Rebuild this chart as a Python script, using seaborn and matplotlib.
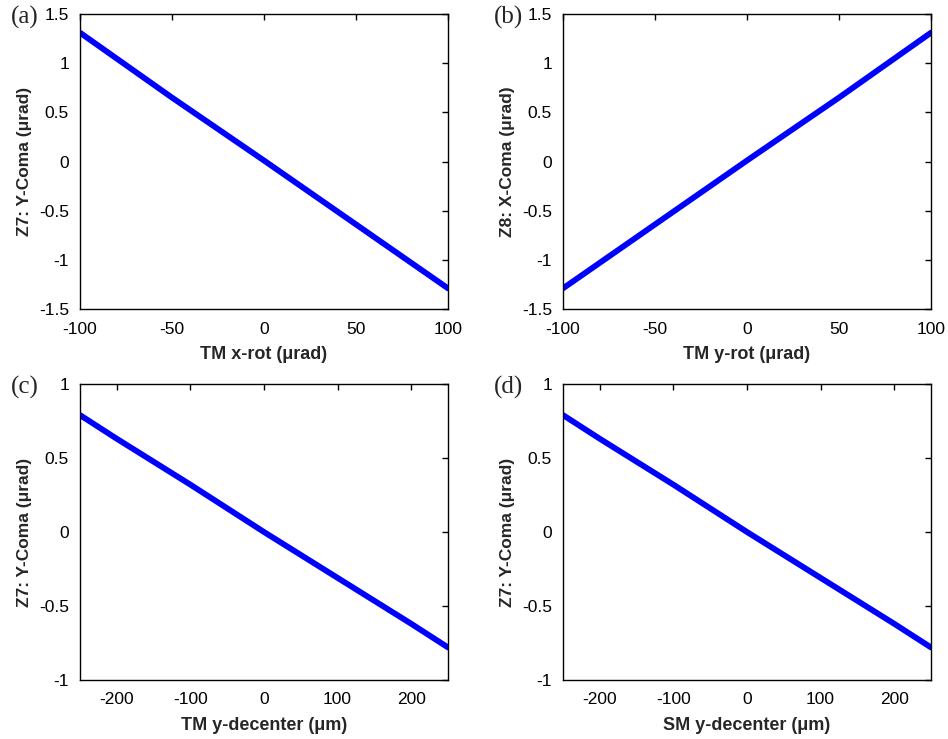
import matplotlib
matplotlib.use("Agg")
import matplotlib.pyplot as plt
import seaborn as sns
import pandas as pd

# Misalignment sweeps and resulting Zernike coma terms
rot_x = [-100, -50, 0, 50, 100]
z7_tm_xrot = [1.31, 0.65, 0.01, -0.64, -1.29]
rot_y = [-100, -50, 0, 50, 100]
z8_tm_yrot = [-1.29, -0.64, 0.01, 0.65, 1.31]
dec_y = [-250, -200, -100, 0, 100, 200, 250]
z7_tm_ydec = [0.79, 0.63, 0.32, 0.0, -0.31, -0.62, -0.78]
z7_sm_ydec = [0.79, 0.63, 0.32, 0.0, -0.31, -0.62, -0.78]

panels = [
    dict(tag="(a)", x=rot_x, y=z7_tm_xrot, xlabel="TM x-rot (\u03bcrad)",
         ylabel="Z7: Y-Coma (\u03bcrad)", xlim=(-100, 100), ylim=(-1.5, 1.5),
         xticks=[-100, -50, 0, 50, 100], yticks=[-1.5, -1, -0.5, 0, 0.5, 1, 1.5]),
    dict(tag="(b)", x=rot_y, y=z8_tm_yrot, xlabel="TM y-rot (\u03bcrad)",
         ylabel="Z8: X-Coma (\u03bcrad)", xlim=(-100, 100), ylim=(-1.5, 1.5),
         xticks=[-100, -50, 0, 50, 100], yticks=[-1.5, -1, -0.5, 0, 0.5, 1, 1.5]),
    dict(tag="(c)", x=dec_y, y=z7_tm_ydec, xlabel="TM y-decenter (\u03bcm)",
         ylabel="Z7: Y-Coma (\u03bcrad)", xlim=(-250, 250), ylim=(-1, 1),
         xticks=[-200, -100, 0, 100, 200], yticks=[-1, -0.5, 0, 0.5, 1]),
    dict(tag="(d)", x=dec_y, y=z7_sm_ydec, xlabel="SM y-decenter (\u03bcm)",
         ylabel="Z7: Y-Coma (\u03bcrad)", xlim=(-250, 250), ylim=(-1, 1),
         xticks=[-200, -100, 0, 100, 200], yticks=[-1, -0.5, 0, 0.5, 1]),
]

sns.set_style("white")
plt.rcParams["font.family"] = ["Liberation Sans", "DejaVu Sans"]

W, H = 948, 739
fig = plt.figure(figsize=(W / 100, H / 100), dpi=100)

# axes boxes in pixels: left, top, right, bottom
boxes = [(80, 14, 448, 309), (563, 14, 931, 309),
         (80, 384, 448, 680), (563, 384, 931, 680)]

for p, (l, t, r, b) in zip(panels, boxes):
    ax = fig.add_axes([l / W, 1 - b / H, (r - l) / W, (b - t) / H])
    df = pd.DataFrame({"x": p["x"], "y": p["y"]})
    sns.lineplot(data=df, x="x", y="y", ax=ax, color="#0000ff", lw=4.2)
    ax.set_xlim(*p["xlim"])
    ax.set_ylim(*p["ylim"])
    ax.set_xticks(p["xticks"])
    ax.set_yticks(p["yticks"])
    ax.set_xticklabels([f"{v:g}" for v in p["xticks"]])
    ax.set_yticklabels([f"{v:g}" for v in p["yticks"]])
    ax.tick_params(direction="in", length=4, width=1, top=True, right=True,
                   labelsize=12.5, colors="black")
    ax.tick_params(axis="x", pad=9)
    ax.tick_params(axis="y", pad=8)
    for sp in ax.spines.values():
        sp.set_visible(True)
        sp.set_color("black")
        sp.set_linewidth(1.0)
    ax.set_xlabel(p["xlabel"], fontsize=13, fontweight="bold", labelpad=7)
    ax.set_ylabel(p["ylabel"], fontsize=12.5, fontweight="bold", labelpad=5)
    fig.text((l - 69) / W, 1 - (t + 3) / H, p["tag"], fontsize=18,
             family="Liberation Serif", va="center", ha="left")

fig.savefig("out.png", dpi=100)
